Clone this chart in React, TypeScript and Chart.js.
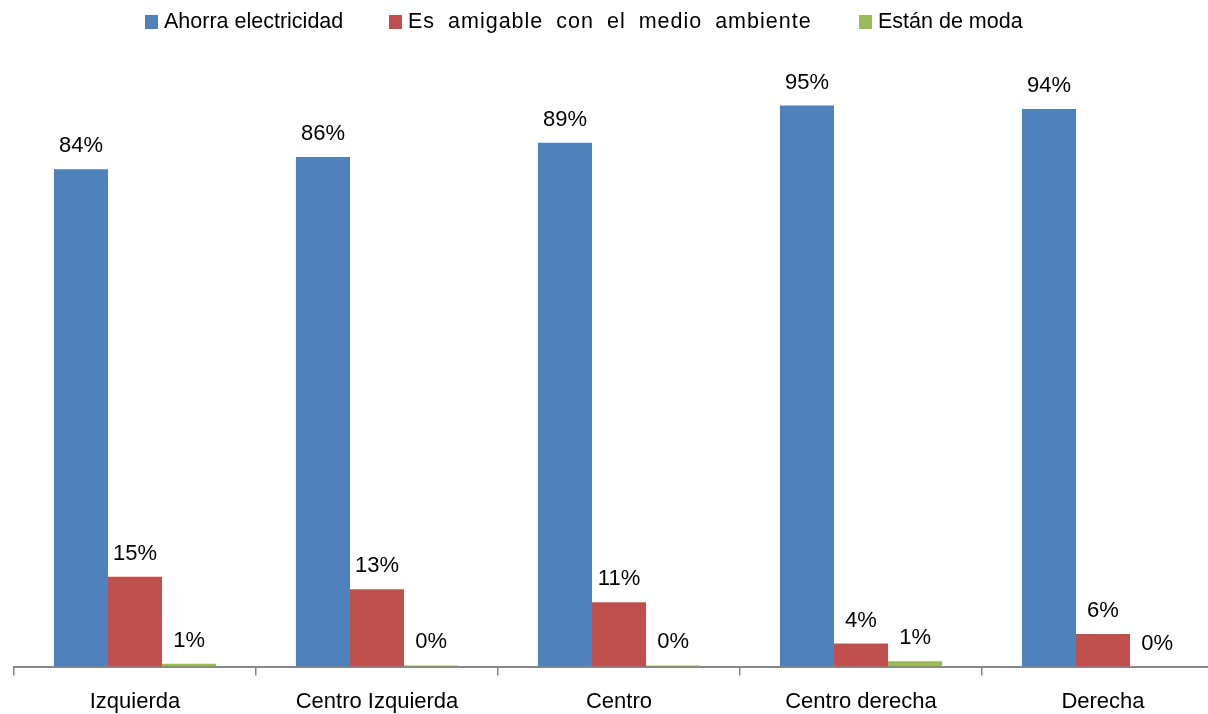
import React, { useEffect, useRef } from "react";
import { Chart, registerables } from "chart.js";

Chart.register(...registerables);

const categories = ["Izquierda", "Centro Izquierda", "Centro", "Centro derecha", "Derecha"];
const seriesNames = ["Ahorra electricidad", "Es amigable con el medio ambiente", "Están de moda"];
const ahorraElectricidad = [84.2, 86.3, 88.7, 95.0, 94.4];
const amigableMedioAmbiente = [15.2, 13.1, 10.9, 3.9, 5.5];
const estanDeModa = [0.5, 0.2, 0.2, 0.9, 0.0];
const seriesColors = ["#4F81BD", "#C0504D", "#9BBB59"];

const FONT = "'Liberation Sans', Arial, sans-serif";

const legendLefts = [145, 389, 859];

const dataLabelPlugin = {
  id: "dataLabels",
  afterDatasetsDraw(chart: any) {
    const ctx = chart.ctx;
    ctx.save();
    ctx.font = `22px ${FONT}`;
    ctx.fillStyle = "#000000";
    ctx.textAlign = "center";
    ctx.textBaseline = "alphabetic";
    chart.data.datasets.forEach((ds: any, i: number) => {
      const meta = chart.getDatasetMeta(i);
      meta.data.forEach((el: any, j: number) => {
        const v = ds.data[j] as number;
        ctx.fillText(Math.round(v) + "%", el.x, el.y - 17);
      });
    });
    ctx.restore();
  },
};

export default function App() {
  const ref = useRef<HTMLCanvasElement | null>(null);
  useEffect(() => {
    if (!ref.current) return;
    const seriesData = [ahorraElectricidad, amigableMedioAmbiente, estanDeModa];
    const chart = new Chart(ref.current, {
      type: "bar",
      data: {
        labels: categories,
        datasets: seriesNames.map((name, i) => ({
          label: name,
          data: seriesData[i],
          backgroundColor: seriesColors[i],
          borderWidth: 0,
          categoryPercentage: 0.67,
          barPercentage: 1.0,
        })),
      },
      options: {
        responsive: false,
        animation: false,
        layout: { padding: { left: 14, right: 6, top: 76, bottom: 0 } },
        plugins: {
          legend: { display: false },
          tooltip: { enabled: false },
        },
        scales: {
          x: {
            grid: {
              offset: true,
              drawOnChartArea: false,
              drawTicks: true,
              tickLength: 9,
              color: "#868686",
              lineWidth: 1.5,
            },
            border: { display: true, color: "#868686", width: 2 },
            ticks: {
              color: "#000000",
              font: { family: FONT, size: 22 },
              padding: 13,
              maxRotation: 0,
              autoSkip: false,
            },
          },
          y: {
            display: false,
            min: 0,
            max: 100,
          },
        },
      },
      plugins: [dataLabelPlugin],
    });
    return () => chart.destroy();
  }, []);

  return (
    <div style={{ position: "absolute", left: 0, top: 0, width: 1208, height: 714, overflow: "hidden", background: "#fff" }}>
      <canvas ref={ref} width={1230} height={728} style={{ display: "block", width: 1230, height: 728 }} />
      {seriesNames.map((name, i) => (
        <div
          key={name}
          style={{
            position: "absolute",
            left: legendLefts[i],
            top: 11,
            display: "flex",
            alignItems: "center",
            fontFamily: FONT,
            fontSize: 21.5,
            lineHeight: 1,
            color: "#000",
            whiteSpace: "nowrap",
            letterSpacing: i === 1 ? 1 : 0,
            wordSpacing: i === 1 ? 6 : 0,
          }}
        >
          <span style={{ display: "inline-block", width: 13, height: 14, background: seriesColors[i], marginRight: 6 }} />
          <span>{name}</span>
        </div>
      ))}
    </div>
  );
}
